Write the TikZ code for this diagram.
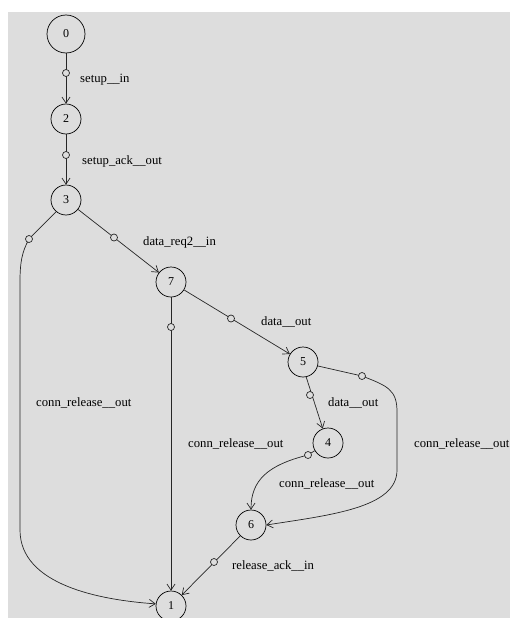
\documentclass[tikz,border=0pt]{standalone}
\usepackage{fontspec}
\setmainfont{Liberation Serif}
\usetikzlibrary{arrows.meta}
\definecolor{bggrey}{RGB}{221,221,221}
\begin{document}
\begin{tikzpicture}[x=1pt,y=-1pt,
  state/.style={circle,draw=black,line width=0.7pt,minimum size=30pt,inner sep=0pt,font=\fontsize{12}{14}\selectfont},
  bigstate/.style={state,minimum size=38pt},
  edge/.style={line width=0.7pt,draw=black!85,-{Straight Barb[length=6pt,width=8pt]}},
  mk/.style={circle,draw=black!85,fill=bggrey,line width=0.7pt,minimum size=7pt,inner sep=0pt},
  lbl/.style={anchor=west,inner sep=0pt,font=\fontsize{12.7}{15}\selectfont}]
\useasboundingbox (0,0) rectangle (510,618);
\fill[white] (0,0) rectangle (510,618);
\fill[bggrey] (8,12) rectangle (510,618);
% states
\node[bigstate] (n0) at (66,34) {0};
\node[state] (n2) at (66,119) {2};
\node[state] (n3) at (66,200) {3};
\node[state] (n7) at (171,282) {7};
\node[state] (n5) at (303,362) {5};
\node[state] (n4) at (328,443) {4};
\node[state] (n6) at (251,525) {6};
\node[state] (n1) at (171,606) {1};
% marker positions
\coordinate (c02) at (66,73);
\coordinate (c23) at (66,155);
\coordinate (c37) at (114,237.5);
\coordinate (c31) at (29,239);
\coordinate (c71) at (171,327);
\coordinate (c75) at (231,318.5);
\coordinate (c54) at (310,395);
\coordinate (c56) at (362,376);
\coordinate (c46) at (308,455);
\coordinate (c61) at (214,562);
% edges
\draw[edge] (n0) -- (n2);
\draw[edge] (n2) -- (n3);
\draw[edge] (n3) -- (n7);
\draw[edge] (n7) -- (n5);
\draw[edge] (n7) -- (n1);
\draw[edge] (n5.-78) -- (n4.110);
\draw[edge] (n6) -- (n1);
\draw[edge] (n3.-130) -- (c31) .. controls (22,252) and (20,262) .. (20,282) -- (20,530) .. controls (20,585) and (100,600) .. (n1.172);
\draw[edge] (n5.-15) -- (c56) .. controls (388,386) and (397,390) .. (397,412) -- (397,470) .. controls (397,508) and (330,515) .. (n6.east);
\draw[edge] (n4.-150) -- (c46) .. controls (268,465) and (251,480) .. (n6.north);
% markers
\foreach \c in {02,23,37,31,71,75,54,56,46,61}
  \node[mk] (m\c) at (c\c) {};
% labels
\node[lbl] (l02) at (80,80) {setup\_\_in};
\node[lbl] (l23) at (82,161) {setup\_ack\_\_out};
\node[lbl] (l37) at (143,242) {data\_req2\_\_in};
\node[lbl] (l31) at (36,403) {conn\_release\_\_out};
\node[lbl] (l75) at (261,322) {data\_\_out};
\node[lbl] (l54) at (328,403) {data\_\_out};
\node[lbl] (l71) at (188,444) {conn\_release\_\_out};
\node[lbl] (l56) at (414,444) {conn\_release\_\_out};
\node[lbl] (l46) at (279,484) {conn\_release\_\_out};
\node[lbl] (l61) at (232,566) {release\_ack\_\_in};
\end{tikzpicture}
\end{document}
